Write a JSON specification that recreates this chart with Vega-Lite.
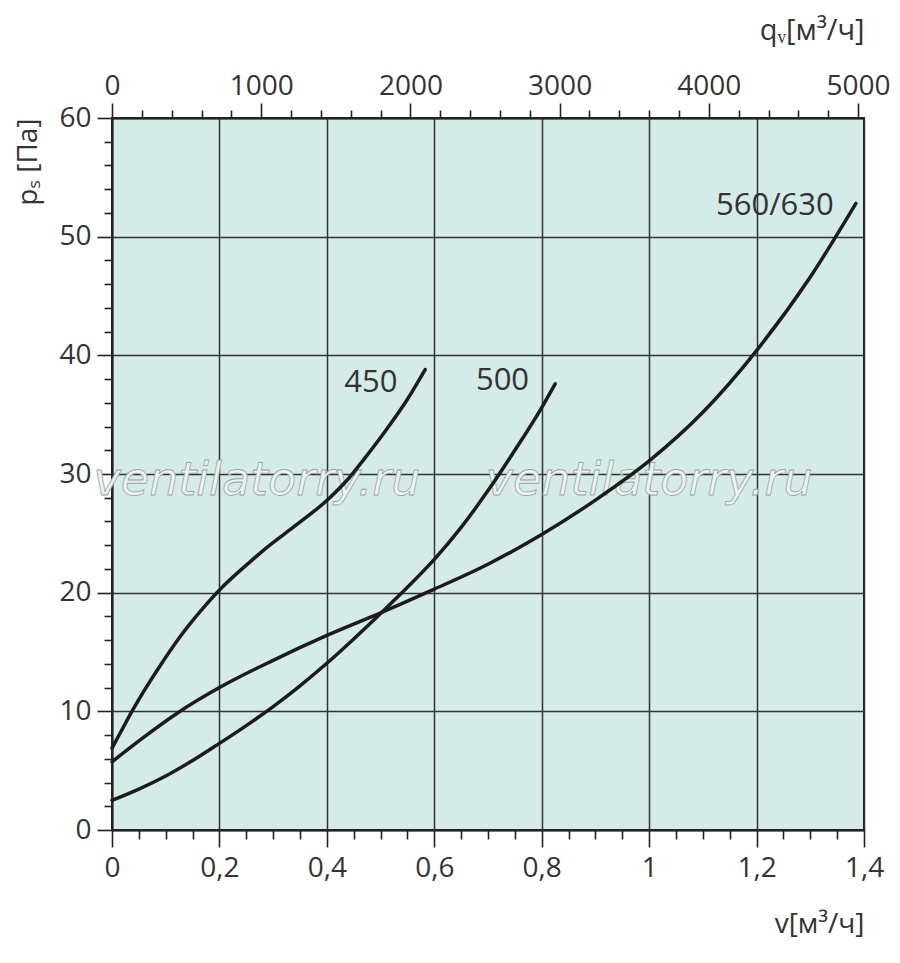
{
  "$schema": "https://vega.github.io/schema/vega-lite/v6.json",
  "width": 752,
  "height": 712,
  "autosize": {"type": "none"},
  "padding": {"left": 112, "top": 118, "right": 36, "bottom": 133},
  "background": "white",
  "config": {
    "font": "Open Sans",
    "view": {"fill": "#d5ebe8", "stroke": "#222222", "strokeWidth": 2}
  },
  "datasets": {
    "curves": [
      {"series": "450", "v": 0, "ps": 6.9},
      {"series": "450", "v": 0.015, "ps": 8.15},
      {"series": "450", "v": 0.034, "ps": 9.75},
      {"series": "450", "v": 0.058, "ps": 11.6},
      {"series": "450", "v": 0.089, "ps": 13.8},
      {"series": "450", "v": 0.127, "ps": 16.3},
      {"series": "450", "v": 0.164, "ps": 18.4},
      {"series": "450", "v": 0.206, "ps": 20.5},
      {"series": "450", "v": 0.257, "ps": 22.6},
      {"series": "450", "v": 0.288, "ps": 23.8},
      {"series": "450", "v": 0.34, "ps": 25.6},
      {"series": "450", "v": 0.403, "ps": 27.9},
      {"series": "450", "v": 0.437, "ps": 29.45},
      {"series": "450", "v": 0.47, "ps": 31.3},
      {"series": "450", "v": 0.511, "ps": 33.75},
      {"series": "450", "v": 0.55, "ps": 36.3},
      {"series": "450", "v": 0.583, "ps": 38.8},
      {"series": "500", "v": 0, "ps": 2.5},
      {"series": "500", "v": 0.05, "ps": 3.45},
      {"series": "500", "v": 0.1, "ps": 4.55},
      {"series": "500", "v": 0.15, "ps": 5.85},
      {"series": "500", "v": 0.2, "ps": 7.3},
      {"series": "500", "v": 0.25, "ps": 8.8},
      {"series": "500", "v": 0.3, "ps": 10.4},
      {"series": "500", "v": 0.35, "ps": 12.15},
      {"series": "500", "v": 0.4, "ps": 14.05},
      {"series": "500", "v": 0.45, "ps": 16.1},
      {"series": "500", "v": 0.5, "ps": 18.25},
      {"series": "500", "v": 0.55, "ps": 20.45},
      {"series": "500", "v": 0.6, "ps": 22.8},
      {"series": "500", "v": 0.65, "ps": 25.5},
      {"series": "500", "v": 0.7, "ps": 28.6},
      {"series": "500", "v": 0.75, "ps": 32.0},
      {"series": "500", "v": 0.8, "ps": 35.6},
      {"series": "500", "v": 0.825, "ps": 37.6},
      {"series": "560/630", "v": 0, "ps": 5.75},
      {"series": "560/630", "v": 0.06, "ps": 7.85},
      {"series": "560/630", "v": 0.12, "ps": 9.8},
      {"series": "560/630", "v": 0.2, "ps": 12.0},
      {"series": "560/630", "v": 0.3, "ps": 14.3},
      {"series": "560/630", "v": 0.4, "ps": 16.4},
      {"series": "560/630", "v": 0.5, "ps": 18.3},
      {"series": "560/630", "v": 0.6, "ps": 20.3},
      {"series": "560/630", "v": 0.7, "ps": 22.4},
      {"series": "560/630", "v": 0.8, "ps": 24.9},
      {"series": "560/630", "v": 0.9, "ps": 27.8},
      {"series": "560/630", "v": 1.0, "ps": 31.1},
      {"series": "560/630", "v": 1.1, "ps": 35.2},
      {"series": "560/630", "v": 1.2, "ps": 40.4},
      {"series": "560/630", "v": 1.3, "ps": 46.6},
      {"series": "560/630", "v": 1.385, "ps": 52.8}
    ],
    "labels": [
      {"label": "450", "v": 0.482, "ps": 37.7},
      {"label": "500", "v": 0.727, "ps": 37.8},
      {"label": "560/630", "v": 1.234, "ps": 52.6}
    ],
    "watermark": [
      {"text": "ventilatorry.ru", "v": 0.27, "ps": 28.2},
      {"text": "ventilatorry.ru", "v": 1.0, "ps": 28.2}
    ],
    "topaxis": [
      {"q": 0},
      {"q": 5000}
    ]
  },
  "layer": [
    {
      "layer": [
        {
          "data": {"name": "watermark"},
          "mark": {"type": "text", "font": "DejaVu Sans", "fontSize": 46, "fontStyle": "italic", "color": "#eaf4f2", "stroke": "#9aa3a3", "strokeWidth": 0.8, "align": "center", "baseline": "alphabetic"},
          "encoding": {
            "x": {"field": "v", "type": "quantitative"},
            "y": {"field": "ps", "type": "quantitative"},
            "text": {"field": "text"}
          }
        },
        {
          "data": {"name": "curves"},
          "mark": {"type": "line", "interpolate": "monotone", "color": "#1c1c1c", "strokeWidth": 3.5, "strokeCap": "round"},
          "encoding": {
            "x": {
              "field": "v", "type": "quantitative",
              "scale": {"domain": [0, 1.4], "nice": false, "zero": true},
              "axis": {
                "orient": "bottom",
                "values": [0, 0.05, 0.1, 0.15, 0.2, 0.25, 0.3, 0.35, 0.4, 0.45, 0.5, 0.55, 0.6, 0.65, 0.7, 0.75, 0.8, 0.85, 0.9, 0.95, 1, 1.05, 1.1, 1.15, 1.2, 1.25, 1.3, 1.35, 1.4],
                "tickCount": 200,
                "grid": true,
                "gridColor": "#333333",
                "gridWidth": 1.5,
                "gridOpacity": {"condition": {"test": "abs(datum.value*5 - round(datum.value*5)) < 0.001", "value": 1}, "value": 0},
                "tickSize": {"condition": {"test": "abs(datum.value*5 - round(datum.value*5)) < 0.001", "value": 17}, "value": 9},
                "tickColor": "#222222",
                "tickWidth": 1.6,
                "domain": true,
                "domainColor": "#222222",
                "domainWidth": 2,
                "labelExpr": "abs(datum.value*5 - round(datum.value*5)) < 0.001 ? replace(toString(round(datum.value*10)/10), '.', ',') : ''",
                "labelFontSize": 28,
                "labelColor": "#333333",
                "labelPadding": 7,
                "labelFlush": false,
                "labelOverlap": false,
                "title": "v[м³/ч]",
                "titleFontSize": 28,
                "titleFontWeight": "normal",
                "titleColor": "#333333",
                "titleX": 752,
                "titleY": 94,
                "titleAlign": "right",
                "titleBaseline": "middle"
              }
            },
            "y": {
              "field": "ps", "type": "quantitative",
              "scale": {"domain": [0, 60], "nice": false},
              "axis": {
                "orient": "left",
                "values": [0, 2, 4, 6, 8, 10, 12, 14, 16, 18, 20, 22, 24, 26, 28, 30, 32, 34, 36, 38, 40, 42, 44, 46, 48, 50, 52, 54, 56, 58, 60],
                "tickCount": 200,
                "format": "d",
                "grid": true,
                "gridColor": "#333333",
                "gridWidth": 1.5,
                "gridOpacity": {"condition": {"test": "datum.value % 10 === 0", "value": 1}, "value": 0},
                "tickSize": {"condition": {"test": "datum.value % 10 === 0", "value": 15}, "value": 8},
                "tickColor": "#222222",
                "tickWidth": 1.6,
                "domain": true,
                "domainColor": "#222222",
                "domainWidth": 2,
                "labelExpr": "datum.value % 10 === 0 ? datum.label : ''",
                "labelFontSize": 28,
                "labelColor": "#333333",
                "labelPadding": 6,
                "labelFlush": false,
                "labelOverlap": false,
                "title": "pₛ [Па]",
                "titleFontSize": 28,
                "titleFontWeight": "normal",
                "titleColor": "#333333",
                "titleAngle": -90,
                "titleX": -84,
                "titleY": 0,
                "titleAlign": "right",
                "titleBaseline": "middle"
              }
            },
            "detail": {"field": "series"}
          }
        },
        {
          "data": {"name": "labels"},
          "mark": {"type": "text", "fontSize": 31, "color": "#333333", "align": "center", "baseline": "middle"},
          "encoding": {
            "x": {"field": "v", "type": "quantitative"},
            "y": {"field": "ps", "type": "quantitative"},
            "text": {"field": "label"}
          }
        }
      ]
    },
    {
      "data": {"name": "topaxis"},
      "mark": {"type": "point", "opacity": 0},
      "encoding": {
        "x": {
          "field": "q", "type": "quantitative",
          "scale": {"domain": [0, 5040], "nice": false, "zero": true},
          "axis": {
            "orient": "top",
            "values": [0, 200, 400, 600, 800, 1000, 1200, 1400, 1600, 1800, 2000, 2200, 2400, 2600, 2800, 3000, 3200, 3400, 3600, 3800, 4000, 4200, 4400, 4600, 4800, 5000],
            "tickCount": 200,
            "format": "d",
            "grid": false,
            "domain": true,
            "domainColor": "#222222",
            "domainWidth": 2,
            "tickSize": {"condition": {"test": "datum.value % 1000 === 0", "value": 15}, "value": 8},
            "tickColor": "#222222",
            "tickWidth": 1.6,
            "labelExpr": "datum.value % 1000 === 0 ? datum.label : ''",
            "labelFontSize": 28,
            "labelColor": "#333333",
            "labelPadding": 3,
            "labelFlush": false,
            "labelOverlap": false,
            "title": "qᵥ[м³/ч]",
            "titleFontSize": 29,
            "titleFontWeight": "normal",
            "titleColor": "#333333",
            "titleX": 752,
            "titleY": -88,
            "titleAlign": "right",
            "titleBaseline": "middle"
          }
        }
      }
    }
  ],
  "resolve": {"scale": {"x": "independent"}, "axis": {"x": "independent"}}
}
